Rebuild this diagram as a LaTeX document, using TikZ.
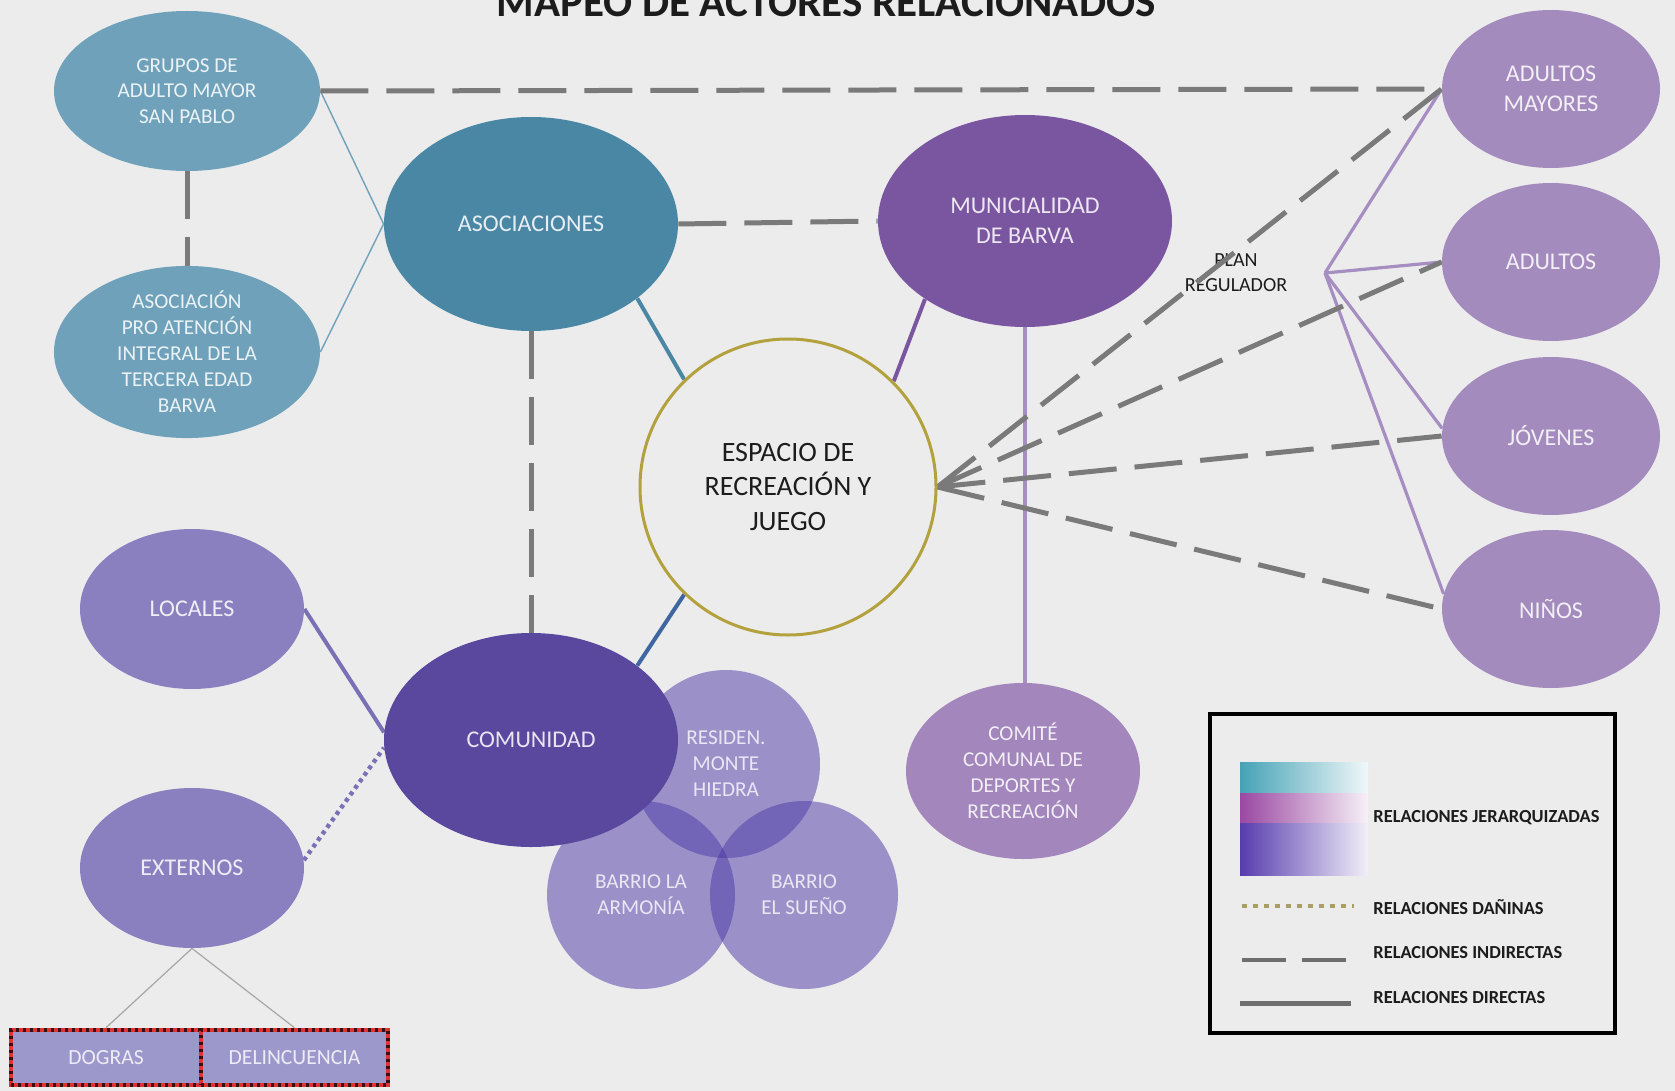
\documentclass[tikz,border=0pt]{standalone}
\usepackage{fontspec}
\setmainfont{Carlito}
\usetikzlibrary{shapes.geometric,arrows.meta}
\definecolor{bgc}{HTML}{ECECEC}
\definecolor{tealL}{HTML}{6FA2BA}
\definecolor{tealD}{HTML}{4A87A5}
\definecolor{purpM}{HTML}{7B56A0}
\definecolor{purpD}{HTML}{5A489F}
\definecolor{lav}{HTML}{8A80C0}
\definecolor{purpL}{HTML}{A286BC}
\definecolor{purpR}{HTML}{A48BBE}
\definecolor{circF}{HTML}{4B38A5}
\definecolor{boxF}{HTML}{9D98CC}
\definecolor{espB}{HTML}{B3A13E}
\definecolor{gline}{HTML}{7A7A7A}
\definecolor{blueL}{HTML}{3F66A0}
\definecolor{fanc}{HTML}{A68DC2}
\definecolor{lavline}{HTML}{7A70B5}
\definecolor{darktxt}{HTML}{1C1C1C}
\definecolor{gradT}{HTML}{45A2B6}
\definecolor{gradM}{HTML}{9A48A2}
\definecolor{gradP}{HTML}{573CAE}
\definecolor{dotc}{HTML}{A89E66}
\definecolor{boxred}{HTML}{E03434}
\definecolor{boxdot}{HTML}{3A0E12}
\pgfdeclarelayer{back}
\pgfdeclarelayer{lines}
\pgfsetlayers{back,lines,main}
\tikzset{
  ell/.style n args={3}{ellipse, minimum width=#1pt, minimum height=#2pt, fill=#3,
    text=white!86!#3, inner sep=0pt, align=center},
  bigtxt/.style={font=\fontsize{12}{15}\selectfont},
  smtxt/.style={font=\fontsize{10.6}{13}\selectfont},
  vcirc/.style={circle, minimum size=94pt, inner sep=0pt, fill=circF, fill opacity=0.5,
    text opacity=1, text=white!88!circF, align=center, font=\fontsize{10.6}{13}\selectfont},
  boxnode/.style={rectangle, minimum height=27.5pt, inner sep=0pt, fill=boxF,
    text=white!82!boxF, font=\fontsize{10.8}{12}\selectfont,
    draw=boxred, line width=2.3pt,
    postaction={draw=boxdot, line width=1.6pt, dash pattern=on 1.6pt off 1.9pt}},
  indirect/.style={draw=gline, line width=2.5pt, dash pattern=on 24pt off 9pt},
  direct/.style={line width=2pt},
  thinteal/.style={draw=tealL, line width=0.7pt},
  fanline/.style={draw=fanc, line width=1.6pt},
  legtxt/.style={anchor=west, inner sep=0pt, text=darktxt, font=\fontsize{9.2}{11}\selectfont\bfseries},
}
\begin{document}
\begin{tikzpicture}[x=0.5pt,y=-0.5pt]
\useasboundingbox (0,0) rectangle (1675,1091);
\begin{pgfonlayer}{back}
\fill[bgc] (0,0) rectangle (1675,1091);
\end{pgfonlayer}

% title (cut at the top edge, as in the original)
\node[anchor=base, inner sep=0pt, text=darktxt, font=\fontsize{21.5}{25}\selectfont\bfseries] (title) at (826,17) {MAPEO DE ACTORES RELACIONADOS};

% left teal group
\node[ell={133}{80}{tealL}, font=\fontsize{10.6}{12.8}\selectfont] (grupos) at (187,91) {GRUPOS DE\\ADULTO MAYOR\\SAN PABLO};
\node[ell={133}{80}{tealL}, smtxt] (asocpro) at (187,352) {ASOCIACIÓN\\PRO ATENCIÓN\\INTEGRAL DE LA\\TERCERA EDAD\\BARVA};
\node[ell={147}{107}{tealD}, bigtxt] (asoc) at (531,224) {ASOCIACIONES};
\node[ell={147}{106}{purpM}, bigtxt] (muni) at (1025,221) {MUNICIALIDAD\\DE BARVA};

% centre
\node[circle, minimum size=148pt, inner sep=0pt, draw=espB, line width=1.5pt, fill=bgc,
  text=darktxt, align=center, font=\fontsize{14}{17.4}\selectfont] (esp) at (788,487) {ESPACIO DE\\RECREACIÓN Y\\JUEGO};

% neighbourhood circles
\node[vcirc] (residen) at (726,764) {RESIDEN.\\MONTE\\HIEDRA};
\node[vcirc] (armonia) at (641,895) {BARRIO LA\\ARMONÍA};
\node[vcirc] (sueno) at (804,895) {BARRIO\\EL SUEÑO};
\node[ell={147}{107}{purpD}, bigtxt] (com) at (531,740) {COMUNIDAD};

\node[ell={112}{80}{lav}, bigtxt] (locales) at (192,609) {LOCALES};
\node[ell={112}{80}{lav}, bigtxt] (externos) at (192,868) {EXTERNOS};
\node[boxnode, minimum width=95pt] (dogras) at (106,1057.5) {DOGRAS};
\node[boxnode, minimum width=93.5pt] (delinc) at (294.5,1057.5) {DELINCUENCIA};

\node[ell={117}{88}{purpL}, smtxt] (comite) at (1023,771) {COMITÉ\\COMUNAL DE\\DEPORTES Y\\RECREACIÓN};

% right column
\node[ell={109}{79}{purpR}, bigtxt] (am) at (1551,89) {ADULTOS\\MAYORES};
\node[ell={109}{79}{purpR}, bigtxt] (adultos) at (1551,262) {ADULTOS};
\node[ell={109}{79}{purpR}, bigtxt] (jovenes) at (1551,436) {JÓVENES};
\node[ell={109}{79}{purpR}, bigtxt] (ninos) at (1551,609) {NIÑOS};

\coordinate (fan) at (1325,273);

\begin{pgfonlayer}{lines}
\node[align=center, inner sep=0pt, text=darktxt, font=\fontsize{10}{12.5}\selectfont] (plan) at (1236,273) {PLAN\\REGULADOR};

\draw[thinteal] (grupos.east) -- (asoc.west);
\draw[thinteal] (asocpro.east) -- (asoc.west);
\draw[indirect] (grupos.south) -- (asocpro.north);
\draw[indirect] (grupos.east) -- (am.west);
\draw[indirect] (asoc.east) -- (muni.west);
\draw[indirect] (asoc.south) -- (com.north);

\draw[direct, draw=tealD] (asoc.-35.5) -- (esp.134);
\draw[direct, draw=purpM] (muni.218) -- (esp.45);
\draw[direct, draw=blueL] (com.35) -- (esp.226);
\draw[direct, draw=fanc] (muni.south) -- (muni.south |- comite.north);
\draw[direct, draw=lavline] (locales.east) -- (com.177);
\draw[draw=lavline, line width=2.2pt, dash pattern=on 2pt off 2pt] (externos.4) -- (com.183);
\draw[draw=gray!70, line width=0.6pt] (externos.south) -- (dogras.north);
\draw[draw=gray!70, line width=0.6pt] (externos.south) -- (delinc.north);

\draw[fanline] (fan) -- (am.west);
\draw[fanline] (fan) -- (adultos.west);
\draw[fanline] (fan) -- (jovenes.176);
\draw[fanline] (fan) -- (ninos.172);

\draw[indirect] (esp.east) -- (am.west);
\draw[indirect] (esp.east) -- (adultos.west);
\draw[indirect] (esp.east) -- (jovenes.west);
\draw[indirect] (esp.east) -- (ninos.west);
\end{pgfonlayer}

% legend
\draw[line width=2pt] (1210,714) rectangle (1615,1033);
\shade[left color=gradT, right color=white!92!gradT] (1240,762) rectangle (1368,793);
\shade[left color=gradM, right color=white!92!gradM] (1240,793) rectangle (1368,823);
\shade[left color=gradP, right color=white!92!gradP] (1240,823) rectangle (1368,875);
\node[legtxt] (lg1) at (1373,818) {RELACIONES JERARQUIZADAS};
\draw[draw=dotc, line width=1.6pt, dash pattern=on 2.5pt off 3pt] (1242,906) -- (1354,906);
\node[legtxt] (lg2) at (1373,907) {RELACIONES DAÑINAS};
\draw[draw=gline!90!black, line width=2.2pt, dash pattern=on 22pt off 8pt] (1242,960) -- (1346,960);
\node[legtxt] (lg3) at (1373,953) {RELACIONES INDIRECTAS};
\draw[draw=gline!90!black, line width=2.5pt] (1240,1003) -- (1351,1003);
\node[legtxt] (lg4) at (1373,998) {RELACIONES DIRECTAS};
\end{tikzpicture}
\end{document}
